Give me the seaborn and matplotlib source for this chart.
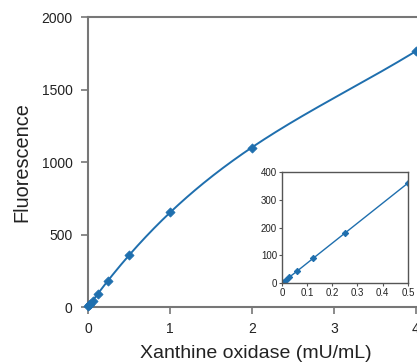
import numpy as np
import pandas as pd
import matplotlib
matplotlib.use("Agg")
import matplotlib.pyplot as plt
import seaborn as sns

sns.set_theme(style="ticks")
plt.rcParams["font.family"] = ["Liberation Sans", "DejaVu Sans"]

# enzyme concentration (mU/mL) and fluorescence readings
xo_conc = [0, 0.015, 0.03, 0.06, 0.125, 0.25, 0.5, 1, 2, 4]
fluor = [5, 12, 22, 43, 90, 180, 360, 655, 1100, 1765]

# low-range detail shown in the inset
inset_conc = [0, 0.015, 0.03, 0.06, 0.125, 0.25, 0.5]
inset_fluor = [5, 12, 22, 43, 90, 180, 360]

main_yticks = [0, 500, 1000, 1500, 2000]
main_xticks = [0, 1, 2, 3, 4]
inset_xticks = [0, 0.1, 0.2, 0.3, 0.4, 0.5]
inset_xlabels = ["0", "0.1", "0.2", "0.3", "0.4", "0.5"]
inset_yticks = [0, 100, 200, 300, 400]

blue = "#1f6fae"
spine_c = "#777777"

df = pd.DataFrame({"conc": xo_conc, "fluor": fluor})
df_in = pd.DataFrame({"conc": inset_conc, "fluor": inset_fluor})

# standard curve: least-squares cubic through the origin
xa = np.array(xo_conc, dtype=float)
A = np.column_stack([xa, xa**2, xa**3])
coef, *_ = np.linalg.lstsq(A, np.array(fluor, dtype=float), rcond=None)
xs = np.linspace(0, max(xo_conc), 200)
fit = pd.DataFrame({"conc": xs, "fluor": coef[0]*xs + coef[1]*xs**2 + coef[2]*xs**3})

fig = plt.figure(figsize=(4.17, 3.63), dpi=100)
ax = fig.add_axes([0.211, 0.154, 0.806, 0.799])

sns.lineplot(data=fit, x="conc", y="fluor", color=blue, lw=1.4, ax=ax)
sns.scatterplot(data=df, x="conc", y="fluor", marker="D", s=22, color=blue,
                edgecolor=blue, linewidth=0.5, ax=ax, zorder=3, clip_on=False)

ax.set_xlim(0, 4.1)
ax.set_ylim(0, 2000)
ax.set_xticks(main_xticks)
ax.set_yticks(main_yticks)
ax.set_xlabel("Xanthine oxidase (mU/mL)", fontsize=14, color="#222222", labelpad=6)
ax.set_ylabel("Fluorescence", fontsize=14.3, color="#222222", labelpad=7)
ax.tick_params(labelsize=10, colors="#222222", length=5, width=1.2, color=spine_c, pad=6)
for side in ["left", "bottom", "top"]:
    ax.spines[side].set_color(spine_c)
    ax.spines[side].set_linewidth(1.5)
ax.spines["right"].set_visible(False)

# inset
axi = fig.add_axes([0.676, 0.220, 0.302, 0.306])
sns.lineplot(data=df_in, x="conc", y="fluor", color=blue, lw=1.0, ax=axi,
             marker="D", markersize=3.2, markeredgecolor=blue)
axi.set_xlim(0, 0.5)
axi.set_ylim(0, 400)
axi.set_xticks(inset_xticks)
axi.set_xticklabels(inset_xlabels)
axi.set_yticks(inset_yticks)
axi.set_xlabel("")
axi.set_ylabel("")
axi.tick_params(labelsize=7, colors="#222222", length=2, width=0.8, pad=1.5, color="#555555")
for side in axi.spines:
    axi.spines[side].set_color("#555555")
    axi.spines[side].set_linewidth(1.0)
    axi.spines[side].set_visible(True)

fig.savefig("out.png", dpi=100)
